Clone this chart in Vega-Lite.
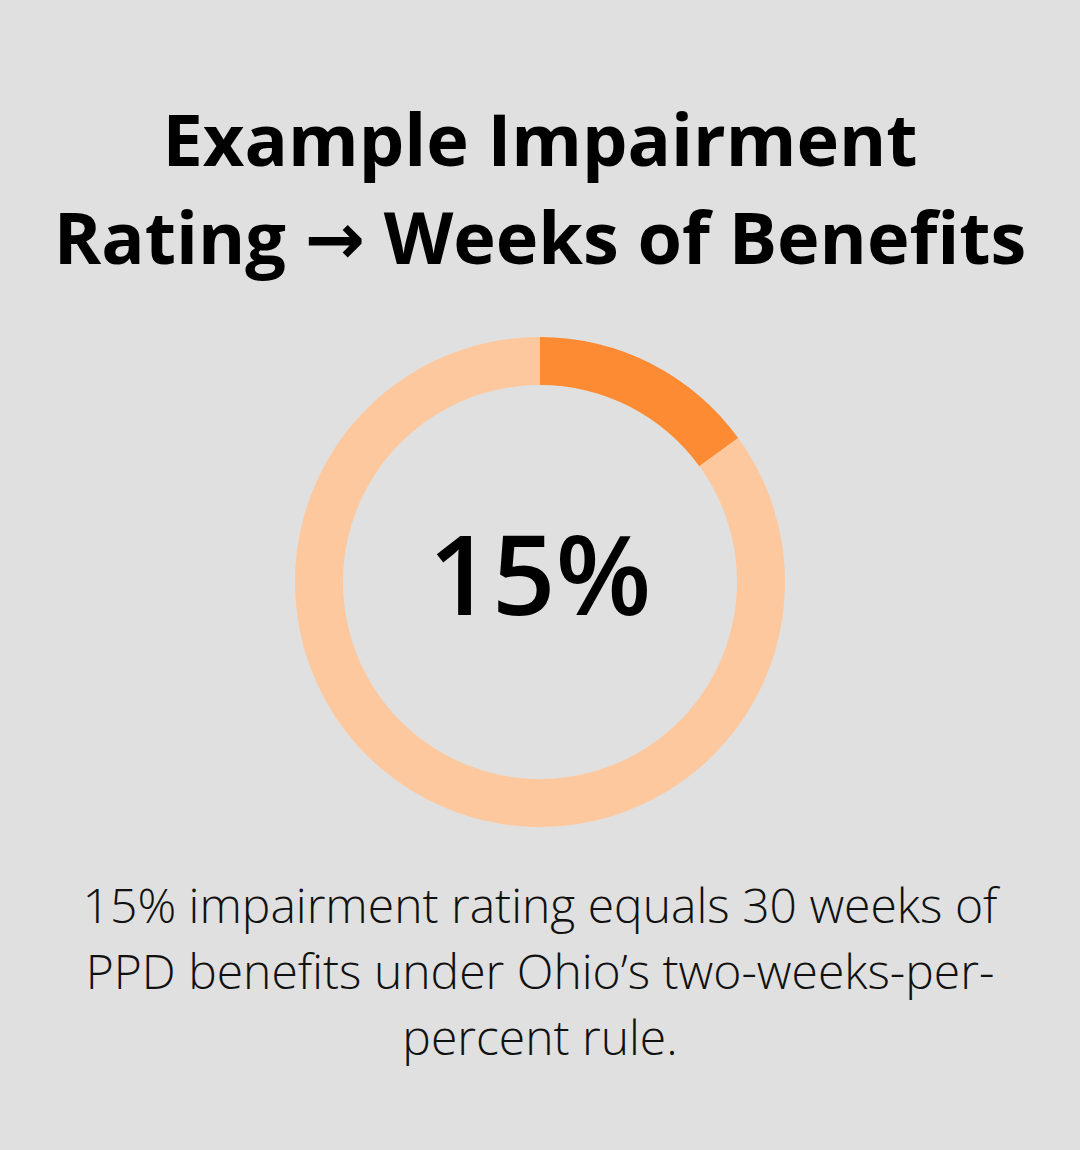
{
  "$schema": "https://vega.github.io/schema/vega-lite/v6.json",
  "width": 1080,
  "height": 490,
  "autosize": {"type": "none"},
  "padding": {"top": 337, "bottom": 323, "left": 0, "right": 0},
  "background": "#dfe0df",
  "view": {"stroke": null},
  "title": {
    "text": ["Example Impairment", "Rating → Weeks of Benefits"],
    "anchor": "middle",
    "font": "Open Sans, DejaVu Sans",
    "fontSize": 72,
    "fontWeight": 700,
    "lineHeight": 98,
    "color": "#000000",
    "offset": 58
  },
  "data": {
    "values": [
      {"segment": "Impairment rating", "share": 0.15},
      {"segment": "Remaining", "share": 0.85}
    ]
  },
  "layer": [
    {
      "mark": {"type": "arc", "outerRadius": 245, "innerRadius": 197},
      "encoding": {
        "theta": {"field": "share", "type": "quantitative", "stack": true},
        "order": {"field": "segment", "type": "nominal", "sort": "ascending"},
        "color": {
          "field": "segment",
          "type": "nominal",
          "scale": {"domain": ["Impairment rating", "Remaining"], "range": ["#fd8b33", "#fec89f"]},
          "legend": null
        }
      }
    },
    {
      "transform": [{"filter": "datum.segment === 'Impairment rating'"}],
      "mark": {
        "type": "text",
        "font": "Open Sans",
        "fontSize": 111,
        "fontWeight": 600,
        "color": "#000000",
        "align": "center",
        "baseline": "alphabetic",
        "x": {"expr": "width / 2"},
        "y": {"expr": "height / 2 + 33"}
      },
      "encoding": {
        "text": {"field": "share", "type": "quantitative", "format": ".0%"}
      }
    },
    {
      "data": {"values": [{"note": "caption"}]},
      "mark": {
        "type": "text",
        "text": [
          "15% impairment rating equals 30 weeks of",
          "PPD benefits under Ohio’s two-weeks-per-",
          "percent rule."
        ],
        "font": "Open Sans",
        "fontSize": 48,
        "fontWeight": 300,
        "lineHeight": 66,
        "color": "#111111",
        "align": "center",
        "baseline": "alphabetic",
        "x": {"expr": "width / 2"},
        "y": {"expr": "height + 96"}
      },
      "encoding": {}
    }
  ]
}
